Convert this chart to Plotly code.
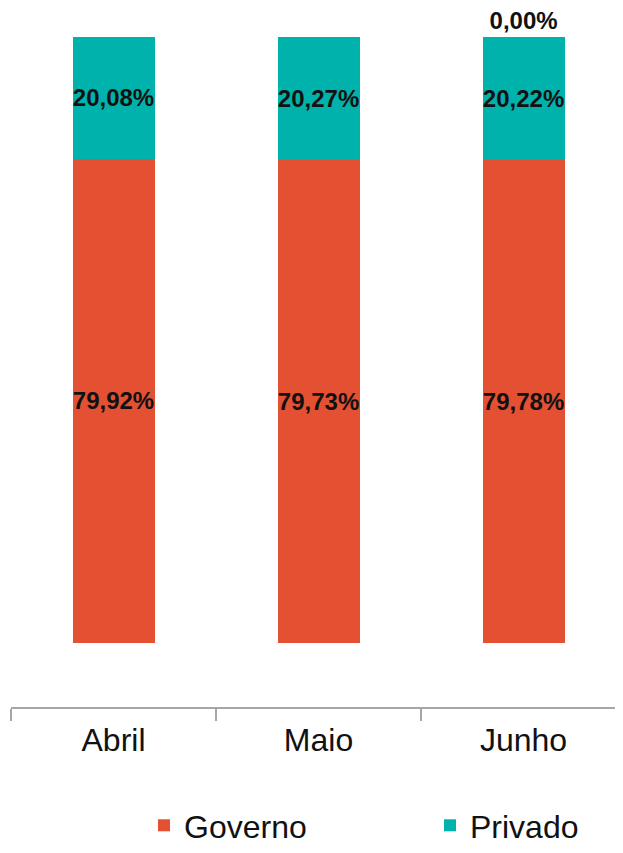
import plotly.graph_objects as go

categories = ["Abril", "Maio", "Junho"]
governo = [79.92, 79.73, 79.78]
privado = [20.08, 20.27, 20.22]
outros = [None, None, 0.0]

def fmt(vals):
    return ["" if v is None else f"{v:.2f}".replace(".", ",") + "%" for v in vals]

label_font = dict(family="Liberation Sans Narrow, Arial Narrow, Liberation Sans, Arial", size=24, color="#111111")

fig = go.Figure()
fig.add_trace(go.Bar(
    name="Governo", x=categories, y=governo, marker=dict(color="#E35032", line=dict(width=0)),
    text=fmt(governo), textposition="inside", insidetextanchor="middle", constraintext="none",
    textangle=0, textfont=dict(label_font, weight="bold"), width=0.4, hoverinfo="skip",
    legend="legend"))
fig.add_trace(go.Bar(
    name="Privado", x=categories, y=privado, marker=dict(color="#00B2AC", line=dict(width=0)),
    text=fmt(privado), textposition="inside", insidetextanchor="middle", constraintext="none",
    textangle=0, textfont=dict(label_font, weight="bold"), width=0.4, hoverinfo="skip",
    legend="legend2"))
fig.add_trace(go.Bar(
    name="Outros", x=categories, y=outros, marker=dict(color="#888888", line=dict(width=0)),
    text=fmt(outros), textposition="outside", constraintext="none", cliponaxis=False,
    textangle=0, textfont=dict(label_font, weight="bold"), width=0.4, showlegend=False, hoverinfo="skip"))

legend_common = dict(orientation="h", xanchor="left", y=-0.2095, yanchor="bottom",
                     font=dict(size=32, color="#111111"), itemclick=False,
                     bgcolor="rgba(0,0,0,0)")

fig.update_layout(
    barmode="stack",
    width=615, height=845,
    margin=dict(l=3, r=0, t=2, b=146),
    paper_bgcolor="white", plot_bgcolor="white",
    font=dict(family="Liberation Sans, Arial", color="#111111"),
    xaxis=dict(
        range=[-0.5, 2.485], tickson="boundaries", ticks="outside", ticklen=12,
        tickcolor="#A6A6A6", tickwidth=2, showline=True, linecolor="#A6A6A6", linewidth=2,
        tickfont=dict(size=32, color="#111111"), ticklabelstandoff=4,
        showgrid=False, automargin=False),
    yaxis=dict(range=[-10.56, 104.46], visible=False, showgrid=False, zeroline=False, automargin=False),
    legend=dict(legend_common, x=0.2173),
    legend2=dict(legend_common, x=0.6846),
    showlegend=True,
)

fig.write_html("out.html")
